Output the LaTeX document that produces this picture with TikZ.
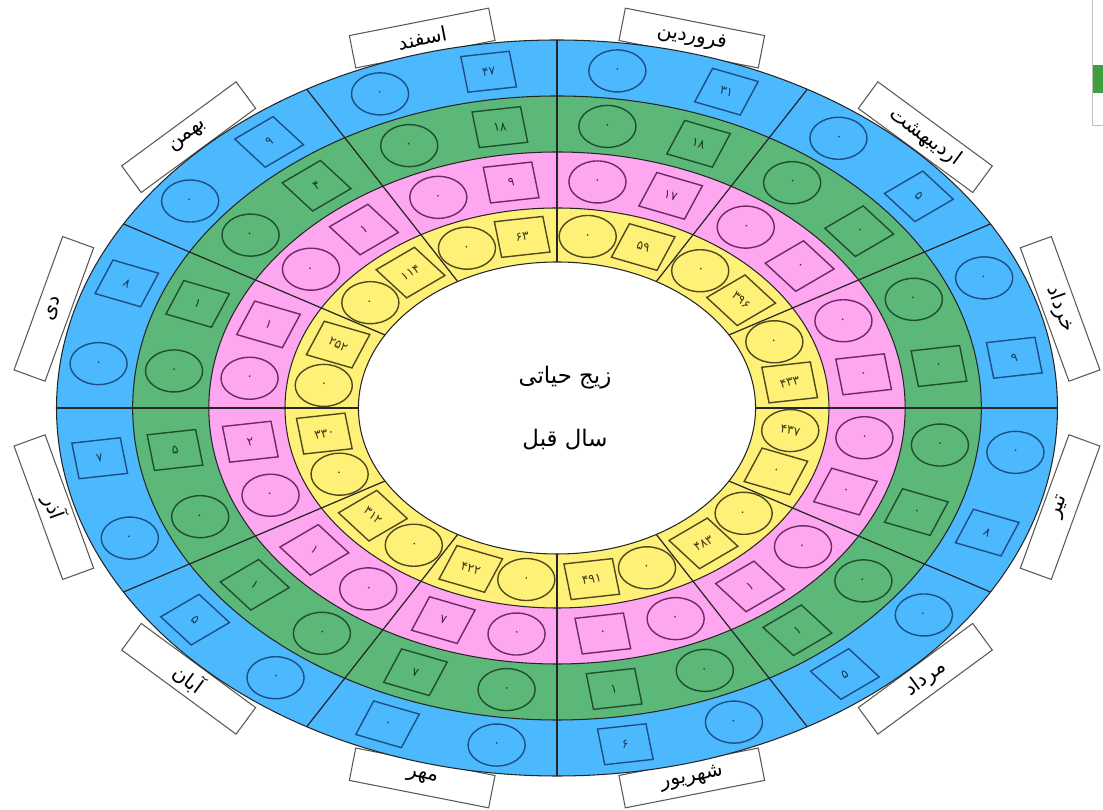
\documentclass[tikz,border=0pt]{standalone}
\usepackage{fontspec}
\newfontfamily\arabicfont[Script=Arabic]{DejaVu Sans}
\TeXXeTstate=1
\usepackage{xcolor}
\usepackage{tikz}
\usetikzlibrary{calc}

\definecolor{ringblue}{HTML}{4CB9FF}
\definecolor{ringgreen}{HTML}{5CB879}
\definecolor{ringpink}{HTML}{FFA6F1}
\definecolor{ringyellow}{HTML}{FFF178}
\definecolor{edgeblue}{HTML}{1D4F86}
\definecolor{edgegreen}{HTML}{1F4F2C}
\definecolor{edgepink}{HTML}{6E2A66}
\definecolor{edgeyellow}{HTML}{4F4A1E}
\definecolor{widgetgreen}{HTML}{3F9F3F}

\tikzset{
  monthbox/.style={draw=black!65, fill=white, line width=0.6pt, minimum width=2.84cm,
    minimum height=0.66cm, inner sep=0pt, font=\arabicfont\fontsize{11.5}{13}\selectfont},
  digit/.style={inner sep=0pt, font=\arabicfont\fontsize{7}{8}\selectfont},
  ringedge/.style={draw=black!85, line width=0.6pt},
  sectorline/.style={draw=black!85, line width=0.7pt},
  shapeline/.style={line width=0.8pt}
}

\begin{document}
\begin{tikzpicture}[x=0.02cm, y=0.02cm]
    \def\sx{1.36}
    \useasboundingbox (-557,-402) rectangle (546,408);
    % month labels, behind the rings
    \foreach \k/\mname in {0/فروردین,1/اردیبهشت,2/خرداد,3/تیر,4/مرداد,5/شهریور,6/مهر,7/آبان,8/آذر,9/دی,10/بهمن,11/اسفند} {
        \pgfmathsetmacro{\ang}{75-30*\k}
        \pgfmathsetmacro{\rot}{atan2(-cos(\ang),\sx*sin(\ang))+180*(sin(\ang)<0)}
        \node[monthbox, rotate=\rot] (month\k) at ({\sx*383*cos(\ang)},{383*sin(\ang)}) {\beginR\mname\endR};
    }
    % rings
    \foreach \r/\col in {368/ringblue,312/ringgreen,256/ringpink,200/ringyellow,146/white}
        \filldraw[fill=\col, ringedge, xscale=\sx] (0,0) circle[radius=\r];
    % sector borders
    \foreach \a in {0,30,...,330}
        \draw[sectorline] ({\sx*146*cos(\a)},{146*sin(\a)}) -- ({\sx*368*cos(\a)},{368*sin(\a)});
    % one circle and one square per ring and month
    \begin{scope}[xscale=\sx]
    \foreach \k/\bq/\gq/\pq/\yq/\yc in {0/۳۱/۱۸/۱۷/۵۹/۰, 1/۵/۰/۰/۳۹۶/۰, 2/۹/۰/۰/۴۳۳/۰, 3/۸/۰/۰/۰/۴۳۷,
        4/۵/۱/۱/۴۸۳/۰, 5/۶/۱/۰/۴۹۱/۰, 6/۰/۷/۷/۴۲۲/۰, 7/۵/۱/۱/۳۱۲/۰,
        8/۷/۵/۲/۳۳۰/۰, 9/۸/۱/۱/۲۵۲/۰, 10/۹/۴/۱/۱۱۴/۰, 11/۴۷/۱۸/۹/۶۳/۰} {
        \pgfmathsetmacro{\ca}{82.5-30*\k}
        \pgfmathsetmacro{\sa}{68.5-30*\k}
        \pgfmathsetmacro{\crot}{mod(atan2(-cos(\ca),\sx*sin(\ca))+405,90)-45}
        \pgfmathsetmacro{\srot}{mod(atan2(-cos(\sa),\sx*sin(\sa))+405,90)-45}
        \foreach \ring/\r/\edge/\cval/\sval in {b/340/edgeblue/۰/\bq, g/284/edgegreen/۰/\gq,
            p/228/edgepink/۰/\pq, y/173/edgeyellow/\yc/\yq} {
            \draw[\edge, shapeline] (\ca:\r) circle[radius=21];
            \draw[\edge, shapeline] (\sa:\r) ++(\sa+45:25.46) -- ++(\sa+180:36) -- ++(\sa+270:36) -- ++(\sa:36) -- cycle;
            \node[digit, text=\edge!75!black, rotate=\crot] (\ring c\k) at (\ca:\r) {\cval};
            \node[digit, text=\edge!75!black, rotate=\srot] (\ring s\k) at (\sa:\r) {\sval};
        }
    }
    \end{scope}
    % title in the middle
    \node[font=\arabicfont\fontsize{13}{15}\selectfont] (title) at (8,30) {\beginR زیج حیاتی\endR};
    \node[font=\arabicfont\fontsize{13}{15}\selectfont] (subtitle) at (8,-32) {\beginR سال قبل\endR};
    % cut-off widget at the top right
    \draw[black!25, fill=white] (535,283) rectangle (565,420);
    \fill[widgetgreen] (536,315) rectangle (565,343);
\end{tikzpicture}
\end{document}
